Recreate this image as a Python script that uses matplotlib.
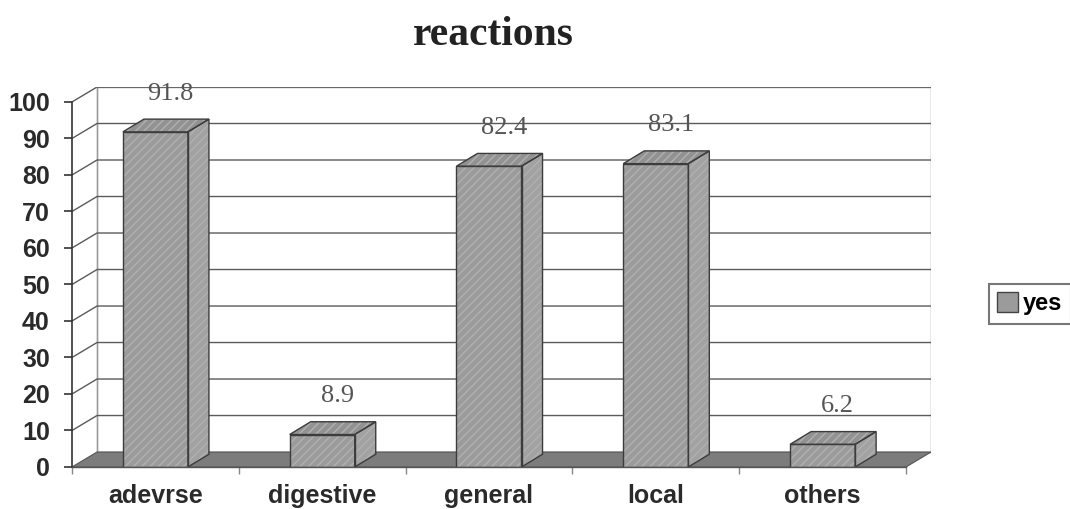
import matplotlib.pyplot as plt
from matplotlib.patches import Polygon, Patch

categories = ["adevrse", "digestive", "general", "local", "others"]
yes_values = [91.8, 8.9, 82.4, 83.1, 6.2]
series_name = "yes"

# pseudo 3d geometry (data units)
DX, DY = 0.15, 4.1        # depth of the walls
BDX, BDY = 0.126, 3.5     # depth of the bars
BAR_W = 0.39
N = len(categories)

fig = plt.figure(figsize=(10.7, 5.09), dpi=100)
ax = fig.add_axes([72 / 1070, 42 / 509, (931 - 72) / 1070, (467 - 87) / 509])
ax.set_xlim(0, N + DX)
ax.set_ylim(0, 100 + DY)
for s in ax.spines.values():
    s.set_visible(False)

grid_c = "#5a5a5a"
# left side wall + back wall
ax.add_patch(Polygon([(0, 0), (DX, DY), (DX, 100 + DY), (0, 100)],
                     closed=True, facecolor="white", edgecolor="none", zorder=1))
ax.add_patch(Polygon([(DX, DY), (N + DX, DY), (N + DX, 100 + DY), (DX, 100 + DY)],
                     closed=True, facecolor="white", edgecolor="#8a8a8a", lw=1.0, zorder=1))
ax.plot([DX, DX], [DY, 100 + DY], color="#9a9a9a", lw=0.9, zorder=2)

for v in range(10, 101, 10):
    ax.plot([0, DX, N + DX], [v, v + DY, v + DY], color=grid_c, lw=1.0, zorder=2)

# floor
ax.add_patch(Polygon([(0, 0), (N, 0), (N + DX, DY), (DX, DY)], closed=True,
                     facecolor="#7c7c7c", edgecolor="#555555", lw=0.8, zorder=3))

# bars
for i, v in enumerate(yes_values):
    c = i + 0.5
    x0, x1 = c - BAR_W / 2, c + BAR_W / 2
    faces = [
        ([(x1, 0), (x1 + BDX, BDY), (x1 + BDX, v + BDY), (x1, v)], "#a2a2a2"),
        ([(x0, v), (x1, v), (x1 + BDX, v + BDY), (x0 + BDX, v + BDY)], "#929292"),
        ([(x0, 0), (x1, 0), (x1, v), (x0, v)], "#9b9b9b"),
    ]
    for pts, col in faces:
        ax.add_patch(Polygon(pts, closed=True, facecolor=col, edgecolor="none", zorder=4))
        ax.add_patch(Polygon(pts, closed=True, facecolor="none", edgecolor="#b0b0b0",
                             hatch="////", lw=0, zorder=4))
        ax.add_patch(Polygon(pts, closed=True, facecolor="none", edgecolor="#3c3c3c",
                             lw=1.0, zorder=5))
    ax.text(c + 0.09, v + 10.5, f"{v:.1f}", ha="center", va="center",
            fontsize=19, family="Liberation Serif", color="#555555", zorder=6)

# axes
ax.plot([0, 0], [0, 100], color="#333333", lw=1.2, zorder=6, clip_on=False)
ax.plot([0, N], [0, 0], color="#555555", lw=1.0, zorder=6, clip_on=False)
ax.set_yticks(range(0, 101, 10))
ax.tick_params(axis="y", length=6, width=1.2, color="#333333", pad=10,
               labelsize=18, labelcolor="#2a2a2a")
ax.set_xticks([i + 0.5 for i in range(N)])
ax.set_xticklabels(categories)
ax.set_xticks(range(0, N + 1), minor=True)
ax.tick_params(axis="x", which="major", length=0, pad=12, labelsize=18,
               labelcolor="#2a2a2a")
ax.tick_params(axis="x", which="minor", length=5, width=1, color="#888888")
for lab in ax.get_xticklabels() + ax.get_yticklabels():
    lab.set_family("Liberation Sans")
    lab.set_fontweight("bold")

fig.text(493 / 1070, 1 - 35 / 509, "reactions", ha="center", va="center",
         fontsize=30, family="Liberation Serif", weight="bold", color="#222222")

leg = fig.legend(handles=[Patch(facecolor="#9b9b9b", edgecolor="#444444", label=series_name)],
                 loc="center left", bbox_to_anchor=(0.913, 0.403), frameon=True,
                 fancybox=False, handlelength=0.9, handleheight=0.9, handletextpad=0.2,
                 borderpad=0.35, prop={"family": "Liberation Sans", "weight": "bold", "size": 17})
leg.get_frame().set_edgecolor("#555555")
leg.get_frame().set_linewidth(1.5)

fig.savefig("out.png", dpi=100)
